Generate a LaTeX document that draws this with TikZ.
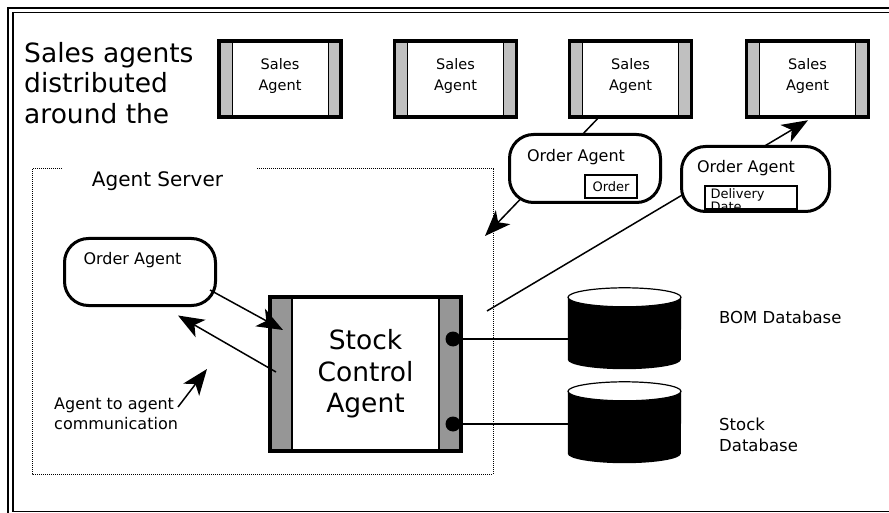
\documentclass[tikz,border=0pt]{standalone}
\usepackage{fontspec}
\setmainfont{DejaVu Sans}
\usetikzlibrary{arrows.meta,calc}

\definecolor{lightbar}{HTML}{C0C0C0}
\definecolor{darkbar}{HTML}{969696}
\newcommand\pxfont[2]{\fontsize{#1pt}{#2pt}\selectfont}
% two centred lines, lifted a little inside their box
\newcommand\liftedpair[2]{\raisebox{3pt}[\height][\depth]{\begin{tabular}{@{}c@{}}#1\\#2\end{tabular}}}

% cylinder drawn around an invisible node of the database's size
\newcommand\drawdb[1]{%
  \fill[black] ($(#1.north west)+(0,9.5)$) -- ($(#1.south west)+(0,-9.5)$)
    arc[start angle=180,end angle=360,x radius=56.5pt,y radius=9.5pt]
    -- ($(#1.north east)+(0,9.5)$) -- cycle;
  \draw[fill=white,line width=1.2pt] ($(#1.north)+(0,9.5)$)
    ellipse[x radius=56.5pt,y radius=9.5pt];
}

\tikzset{
  salesagent/.style={draw, line width=3.5pt, minimum width=122pt, minimum height=76pt,
    inner sep=0pt, font=\pxfont{14.5}{21}, fill=white,
    path picture={
      \filldraw[fill=lightbar,draw=black,line width=0.8pt]
        (path picture bounding box.north west) rectangle ([xshift=13pt]path picture bounding box.south west);
      \filldraw[fill=lightbar,draw=black,line width=0.8pt]
        (path picture bounding box.north east) rectangle ([xshift=-13pt]path picture bounding box.south east);
    }},
  stockagent/.style={draw, line width=4pt, minimum width=191pt, minimum height=154pt,
    inner sep=0pt, align=center, font=\pxfont{26.5}{31.5}, fill=white,
    path picture={
      \filldraw[fill=darkbar,draw=black,line width=1.8pt]
        (path picture bounding box.north west) rectangle ([xshift=22pt]path picture bounding box.south west);
      \filldraw[fill=darkbar,draw=black,line width=1.8pt]
        (path picture bounding box.north east) rectangle ([xshift=-22pt]path picture bounding box.south east);
    }},
  orderagent/.style={draw, line width=3pt, rounded corners=24pt, fill=white, inner sep=0pt},
  lbl/.style={inner sep=0pt, font=\pxfont{16}{20}},
  smallbox/.style={draw, line width=1.2pt, fill=white, inner sep=0pt, font=\pxfont{13}{14}},
  dbnode/.style={inner sep=0pt, minimum width=113pt, minimum height=81pt},
  dotnode/.style={circle, fill=black, inner sep=0pt, minimum size=15pt},
  arr/.style={line width=1.5pt, -{Stealth[length=26pt,width=20pt,inset=7pt]}},
  link/.style={line width=1.5pt},
}

\begin{document}
\begin{tikzpicture}[x=1pt,y=-1pt]
\useasboundingbox (0,0) rectangle (889,513);

% double page frame, cut off at the right and bottom
\begin{scope}
  \clip (0,0) rectangle (889,513);
  \draw[line width=2.5pt] (8.2,8.2) rectangle (900,522);
  \draw[line width=1.4pt] (12.8,12.8) rectangle (894,511.6);
\end{scope}

% title text
\node[inner sep=0pt, anchor=north west, align=left, font=\pxfont{26.5}{30.5}] (title) at (24,42)
  {Sales agents\\distributed\\around the};

% agent server boundary
\draw[line width=1pt, dash pattern=on 1pt off 1pt]
  (62,169) -- (32,169) -- (32,474) -- (493,474) -- (493,169) -- (257,169);
\node[inner sep=0pt, font=\pxfont{20}{24}] (server) at (157.5,181) {Agent Server};

% stock control agent
\node[stockagent] (sca) at (365.5,374) {Stock\\Control\\Agent};
\node[dotnode] (d1) at (453,339) {};
\node[dotnode] (d2) at (453,424) {};

% databases
\node[dbnode] (bom) at (624.5,328.5) {};
\node[dbnode] (sdb) at (624.5,422.5) {};
\drawdb{bom}
\drawdb{sdb}
\draw[link] (d1.center) -- (d1 -| bom.west);
\draw[link] (d2.center) -- (d2 -| sdb.west);
\node[lbl, anchor=west, font=\pxfont{16.5}{21}] (bomt) at (719,317) {BOM Database};
\node[lbl, anchor=west, align=left, font=\pxfont{16.5}{21}] (sdbt) at (719,434.5) {Stock\\Database};

% sales agents
\node[salesagent] (sa1) at (280,79) {\liftedpair{Sales}{Agent}};
\node[salesagent] (sa2) at (455.5,79) {\liftedpair{Sales}{Agent}};
\node[salesagent] (sa3) at (630.5,79) {\liftedpair{Sales}{Agent}};
\node[salesagent] (sa4) at (807.5,79) {\liftedpair{Sales}{Agent}};

% agents travelling between server and sales agents
\coordinate (a4s) at ($(sa3.south)+(-33,0)$);
\coordinate (a4e) at (485,236);
\draw[arr] (a4s) -- (a4e);
\coordinate (a5s) at ($(sca.east)+(24,-63)$);
\coordinate (a5e) at ($(sa4.south)+(0.5,1.5)$);
\draw[arr] (a5s) -- (a5e);

\node[orderagent, minimum width=151pt, minimum height=68pt] (oa1) at (585,168.5) {};
\node[lbl] (oa1t) at (576,157) {Order Agent};
\node[smallbox, minimum width=52pt, minimum height=23pt] (ord) at (611,186.5) {Order};

\node[orderagent, minimum width=148pt, minimum height=65pt] (oa2) at (755.5,179) {};
\node[lbl] (oa2t) at (746,168) {Order Agent};
\node[smallbox, minimum width=92pt, minimum height=23pt,
  path picture={\node[draw=none, fill=none, minimum width=0pt, minimum height=0pt,
      inner sep=0pt, anchor=north west, align=left, font=\pxfont{13}{13}]
    at ([xshift=5pt,yshift=-2pt]path picture bounding box.north west) {Delivery\\Date};}]
  (dd) at (751,197.5) {};

% order agent on the server
\node[orderagent, minimum width=151pt, minimum height=67pt] (oal) at (140,272) {};
\node[lbl] (oalt) at (132.5,260) {Order Agent};

% agent to agent communication
\coordinate (a1s) at ($(oal.south east)+(-7,-17)$);
\coordinate (a1e) at ($(sca.west)+(15,-44)$);
\draw[arr] (a1s) -- (a1e);
\coordinate (a2s) at ($(sca.west)+(8,-2)$);
\coordinate (a2e) at ($(oal.south)+(38,8.5)$);
\draw[arr] (a2s) -- (a2e);

\node[inner sep=0pt, align=left, anchor=north west, font=\pxfont{16}{19.5}] (comm) at (54,398)
  {Agent to agent\\communication};
\coordinate (a3s) at (178,407);
\coordinate (a3e) at (207,369);
\draw[arr] (a3s) -- (a3e);
\end{tikzpicture}
\end{document}
